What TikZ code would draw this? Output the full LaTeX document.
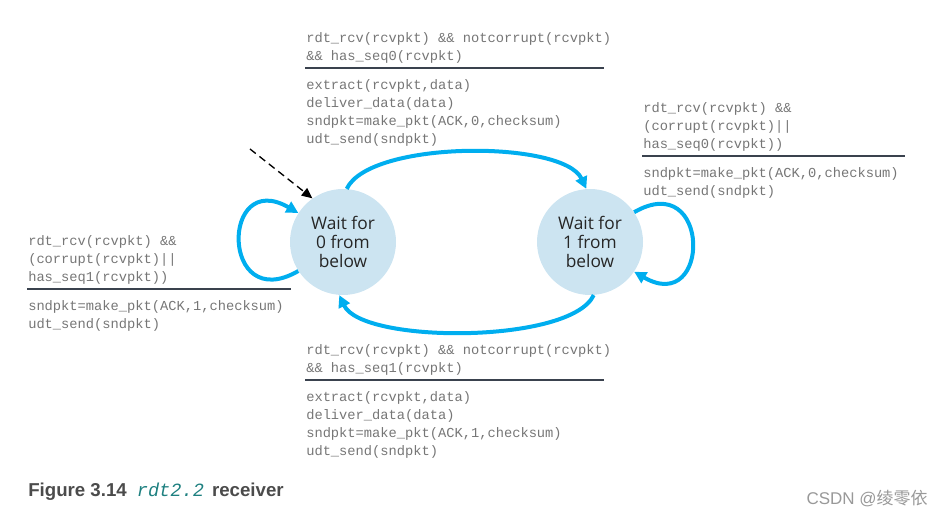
\documentclass[tikz,border=0pt]{standalone}
\usepackage{fontspec}
\setmainfont{Liberation Sans}
\setmonofont{Liberation Mono}
\newfontfamily\statefont{Open Sans}
\newfontfamily\cjkfont{Noto Sans CJK SC}
\usetikzlibrary{arrows.meta}
\definecolor{fsmblue}{RGB}{0,174,239}
\definecolor{fsmfill}{RGB}{204,228,241}
\definecolor{codegray}{RGB}{118,118,118}
\definecolor{rulegray}{RGB}{58,66,78}
\definecolor{capteal}{RGB}{30,128,128}
\definecolor{capgray}{RGB}{75,75,75}

\begin{document}
\begin{tikzpicture}[x=0.75pt,y=0.75pt,
  state/.style={circle,fill=fsmfill,minimum size=79.5pt,inner sep=0pt,align=center,
    font=\statefont\fontsize{13}{14.5}\selectfont,text=black!85},
  trans/.style={fsmblue,line width=3pt,-{Triangle[length=9pt,width=9pt]}},
  code/.style={inner sep=0pt,align=left,text=codegray,font=\ttfamily\fontsize{10.3}{13.5}\selectfont},
  bar/.style={rulegray,line width=0.9pt}]
\useasboundingbox (0,0) rectangle (944,516);

% states
\node[state] (w0) at (343,274) {Wait for\\0 from\\below};
\node[state] (w1) at (590,274) {Wait for\\1 from\\below};

% initial arrow
\coordinate (init) at (250,367);
\draw[line width=1pt,dash pattern=on 5.5pt off 3.5pt,-{Triangle[length=8pt,width=7pt]}] (init) -- (w0.125);

% transitions
\draw[trans] (w0.86) .. controls +(65:54) and +(115:54) .. (w1.94);
\draw[trans] (w1.-86) .. controls +(-115:54) and +(-65:54) .. (w0.-94);
\draw[trans] (w0.213) .. controls +(210:90) and +(150:90) .. (w0.147);
\draw[trans] (w1.34) .. controls +(30:89) and +(-30:89) .. (w1.-34);

% labels
\draw[bar] (305,448) -- (604,448);
\node[code,anchor=south west] (c01) at (306,452) {rdt\_rcv(rcvpkt) \&\& notcorrupt(rcvpkt)\\\&\& has\_seq0(rcvpkt)};
\node[code,anchor=north west] (a01) at (306,437) {extract(rcvpkt,data)\\deliver\_data(data)\\sndpkt=make\_pkt(ACK,0,checksum)\\udt\_send(sndpkt)};

\draw[bar] (642,360) -- (905,360);
\node[code,anchor=south west] (c11) at (643,364) {rdt\_rcv(rcvpkt) \&\&\\(corrupt(rcvpkt)||\\has\_seq0(rcvpkt))};
\node[code,anchor=north west] (a11) at (643,349) {sndpkt=make\_pkt(ACK,0,checksum)\\udt\_send(sndpkt)};

\draw[bar] (27,227) -- (291,227);
\node[code,anchor=south west] (c00) at (28,231) {rdt\_rcv(rcvpkt) \&\&\\(corrupt(rcvpkt)||\\has\_seq1(rcvpkt))};
\node[code,anchor=north west] (a00) at (28,216) {sndpkt=make\_pkt(ACK,1,checksum)\\udt\_send(sndpkt)};

\draw[bar] (305,136) -- (604,136);
\node[code,anchor=south west] (c10) at (306,140) {rdt\_rcv(rcvpkt) \&\& notcorrupt(rcvpkt)\\\&\& has\_seq1(rcvpkt)};
\node[code,anchor=north west] (a10) at (306,125) {extract(rcvpkt,data)\\deliver\_data(data)\\sndpkt=make\_pkt(ACK,1,checksum)\\udt\_send(sndpkt)};

% caption
\node[anchor=base west,inner sep=0pt,font=\bfseries\fontsize{14}{16}\selectfont,text=capgray] (cap) at (28,19)
  {Figure 3.14\hspace{7.5pt}{\color{capteal}\mdseries\itshape\ttfamily rdt2.2}\hspace{6pt}receiver};
\node[anchor=base east,inner sep=0pt,font=\fontsize{12.75}{14}\selectfont,text=black!40] (wm) at (928,11) {CSDN @{\cjkfont 绫零依}};
\end{tikzpicture}
\end{document}
